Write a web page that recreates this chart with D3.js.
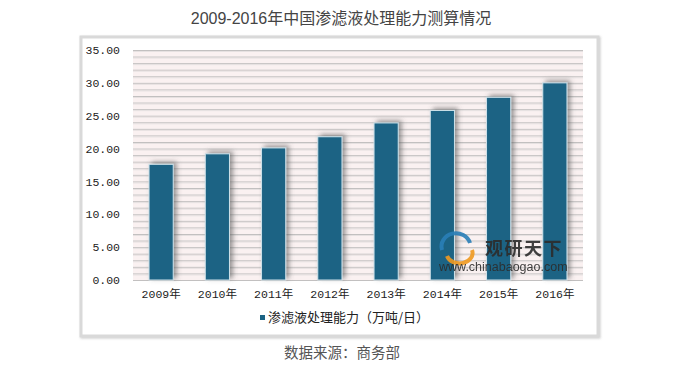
<!DOCTYPE html>
<html><head><meta charset="utf-8">
<script src="https://cdn.jsdelivr.net/npm/d3@7"></script>
<style>
body{margin:0;background:#fff;}
svg{display:block;}
</style></head>
<body>
<svg id="chart" width="681" height="369"></svg>
<script>
const title = "2009-2016年中国渗滤液处理能力测算情况";
const categories = ["2009年","2010年","2011年","2012年","2013年","2014年","2015年","2016年"];
const seriesName = "渗滤液处理能力（万吨/日）";
const values = [17.6, 19.2, 20.1, 21.8, 23.9, 25.8, 27.8, 30.0];
const yTicks = [0,5,10,15,20,25,30,35];
const source = "数据来源：商务部";

(function(){
const svg = d3.select("#chart");
const defs = svg.append("defs");
const f = defs.append("filter").attr("id","sh").attr("x","-50%").attr("y","-20%").attr("width","200%").attr("height","140%");
f.append("feDropShadow").attr("dx",3).attr("dy",-2).attr("stdDeviation",2.5).attr("flood-color","#555").attr("flood-opacity",0.6);
const f2 = defs.append("filter").attr("id","fsh").attr("x","-5%").attr("y","-5%").attr("width","110%").attr("height","110%");
f2.append("feDropShadow").attr("dx",1).attr("dy",1).attr("stdDeviation",1.2).attr("flood-color","#999").attr("flood-opacity",0.5);

// title
svg.append("text").attr("x",341).attr("y",24).attr("text-anchor","middle")
  .attr("font-family","'Liberation Sans','Noto Sans CJK SC',sans-serif").attr("font-size",16)
  .attr("fill","#444").text(title);

// frame
svg.append("rect").attr("x",81).attr("y",37).attr("width",517).attr("height",299)
  .attr("fill","#fff").attr("stroke","#d9d9d9").attr("stroke-width",3).attr("filter","url(#fsh)");

const pL=133, pR=583, pT=50, pB=280;
const x = d3.scaleBand().domain(categories).range([pL,pR]).paddingInner(0.57).paddingOuter(0.285);
const y = d3.scaleLinear().domain([0,35]).range([pB,pT]);

svg.append("rect").attr("x",pL).attr("y",pT).attr("width",pR-pL).attr("height",pB-pT).attr("fill","#faf1f1");

const minor = d3.range(0,36,1);
svg.append("g").selectAll("line").data(minor).join("line")
  .attr("x1",pL).attr("x2",pR).attr("y1",d=>y(d)+0.5).attr("y2",d=>y(d)+0.5)
  .attr("stroke","#c2c0c0").attr("stroke-width",1);
svg.append("g").selectAll("line").data(minor.filter(d=>d>0)).join("line")
  .attr("x1",pL).attr("x2",pR).attr("y1",d=>y(d)+1.5).attr("y2",d=>y(d)+1.5)
  .attr("stroke","#e6e1e1").attr("stroke-width",1);

// y axis labels
const yAxis = d3.axisLeft(y).tickValues(yTicks).tickFormat(d3.format(".2f")).tickSize(0).tickPadding(13);
const ya = svg.append("g").attr("transform",`translate(${pL},0)`).call(yAxis);
ya.select(".domain").remove();
ya.selectAll("text").attr("font-family","'Liberation Mono','Noto Sans CJK SC',monospace").attr("font-size",11.5).attr("fill","#222");

// bars
svg.append("g").selectAll("rect").data(values).join("rect")
  .attr("x",(d,i)=>x(categories[i])).attr("width",x.bandwidth())
  .attr("y",d=>y(d)).attr("height",d=>pB-y(d))
  .attr("fill","#1b6384").attr("stroke","#cfe2ea").attr("stroke-width",1)
  .attr("filter","url(#sh)");

// x axis labels
const xAxis = d3.axisBottom(x).tickSize(0).tickPadding(10);
const xa = svg.append("g").attr("transform",`translate(0,${pB})`).call(xAxis);
xa.select(".domain").remove();
xa.selectAll("text").attr("font-family","'Liberation Mono','Noto Sans CJK SC',monospace").attr("font-size",11.5).attr("fill","#222");

// legend
const lg = svg.append("g");
lg.append("rect").attr("x",260).attr("y",315).attr("width",5).attr("height",5).attr("fill","#1b6384");
lg.append("text").attr("x",268).attr("y",322).attr("font-family","'Noto Sans CJK SC',sans-serif").attr("font-size",13).attr("fill","#222").text(seriesName);

// source
svg.append("text").attr("x",342).attr("y",358).attr("text-anchor","middle")
  .attr("font-family","'Noto Sans CJK SC',sans-serif").attr("font-size",14.5).attr("fill","#555").text(source);

// watermark
const wm = svg.append("g").attr("opacity",0.9);
wm.append("path").attr("d","M442,250 A12,11 0 0 1 470,243").attr("fill","none").attr("stroke","#2a7fb8").attr("stroke-width",4);
wm.append("path").attr("d","M447,256 A10,8 0 0 0 472,250").attr("fill","none").attr("stroke","#f09a20").attr("stroke-width",4);
wm.append("text").attr("x",485).attr("y",255).attr("font-family","'Noto Sans CJK SC',sans-serif").attr("font-weight","bold").attr("font-size",18).attr("fill","#2c2c2c").attr("letter-spacing",1.5).text("观研天下");
wm.append("text").attr("x",439).attr("y",271).attr("font-family","'Liberation Sans',sans-serif").attr("font-size",12.5).attr("fill","#2c2c2c").text("www.chinabaogao.com");
})();
</script>
</body></html>
